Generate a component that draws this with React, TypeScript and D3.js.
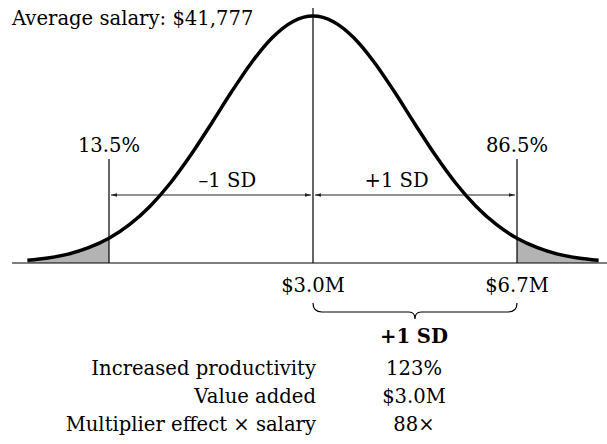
import React from 'react';
import * as d3 from 'd3';

// Bell curve, sampled positions (in "SD" units of the chart) and relative heights
const curveX = [-1.4, -1.3, -1.2, -1.1, -1.0, -0.9, -0.8, -0.7, -0.6, -0.5, -0.4, -0.3, -0.2, -0.1, 0,
  0.1, 0.2, 0.3, 0.4, 0.5, 0.6, 0.7, 0.8, 0.9, 1.0, 1.1, 1.2, 1.3, 1.4];
const curveY = [0.011, 0.020, 0.036, 0.062, 0.100, 0.155, 0.229, 0.323, 0.436, 0.562, 0.692, 0.813, 0.912, 0.977, 1,
  0.977, 0.912, 0.813, 0.692, 0.562, 0.436, 0.323, 0.229, 0.155, 0.100, 0.062, 0.036, 0.020, 0.011];

// markers
const cutoffs = [-1, 1];
const cutoffLabels = ['13.5%', '86.5%'];
const sdLabels = ['\u20131 SD', '+1 SD'];
const sdLabelPos = [-0.42, 0.41];
const valueTicks = [0, 1];
const valueLabels = ['$3.0M', '$6.7M'];

const title = 'Average salary: $41,777';
const tableHeader = '+1 SD';
const rowLabels = ['Increased productivity', 'Value added', 'Multiplier effect \u00d7 salary'];
const rowValues = ['123%', '$3.0M', '88\u00d7'];

const W = 607;
const H = 444;
const FONT = '"DejaVu Serif", "Liberation Serif", serif';
const FS = 19.6;

export default function App() {
  const x = d3.scaleLinear().domain([-1, 1]).range([109, 517]);
  const y = d3.scaleLinear().domain([0, 1]).range([263, 16]);
  const pts = curveX.map((v, i) => ({ x: v, y: curveY[i] }));

  const line = d3.line<{ x: number; y: number }>()
    .x(d => x(d.x))
    .y(d => y(d.y))
    .curve(d3.curveMonotoneX);

  const area = d3.area<{ x: number; y: number }>()
    .x(d => x(d.x))
    .y0(y(0))
    .y1(d => y(d.y))
    .curve(d3.curveMonotoneX);

  const leftTail = pts.filter(d => d.x <= cutoffs[0]);
  const rightTail = pts.filter(d => d.x >= cutoffs[1]);

  const arrowY = 195;
  const base = y(0);
  const bx0 = x(0);
  const bx1 = x(1);
  const bmid = (bx0 + bx1) / 2;
  const bTop = 303;
  const bMid = 312;
  const bTip = 319;
  const brace = `M${bx0},${bTop} Q${bx0},${bMid} ${bx0 + 9},${bMid} L${bmid - 6},${bMid} Q${bmid},${bMid} ${bmid},${bTip} Q${bmid},${bMid} ${bmid + 6},${bMid} L${bx1 - 9},${bMid} Q${bx1},${bMid} ${bx1},${bTop}`;

  return (
    <svg width={W} height={H} style={{ position: 'absolute', left: 0, top: 0, background: '#fff' }}
      fontFamily={FONT}>
      <defs>
        <marker id="ah" viewBox="0 0 10 6" refX="10" refY="3" markerWidth="6" markerHeight="3.6"
          markerUnits="userSpaceOnUse" orient="auto-start-reverse">
          <path d="M0,0 L10,3 L0,6 Z" fill="#222" />
        </marker>
      </defs>

      {/* shaded tails */}
      <path d={area(leftTail) || ''} fill="#b3b3b3" />
      <path d={area(rightTail) || ''} fill="#b3b3b3" />

      {/* baseline */}
      <line x1={12} x2={W} y1={base} y2={base} stroke="#000" strokeWidth={1.2} />

      {/* center line */}
      <line x1={x(0)} x2={x(0)} y1={8} y2={base} stroke="#000" strokeWidth={1.2} />

      {/* cutoff lines + labels */}
      {cutoffs.map((c, i) => (
        <g key={c}>
          <line x1={x(c)} x2={x(c)} y1={159} y2={base} stroke="#000" strokeWidth={1.2} />
          <text x={x(c)} y={152} textAnchor="middle" fontSize={FS}>{cutoffLabels[i]}</text>
        </g>
      ))}

      {/* SD arrows */}
      <line x1={x(-1) + 2} x2={x(0) - 2} y1={arrowY} y2={arrowY} stroke="#222" strokeWidth={1}
        markerStart="url(#ah)" markerEnd="url(#ah)" />
      <line x1={x(0) + 2} x2={x(1) - 2} y1={arrowY} y2={arrowY} stroke="#222" strokeWidth={1}
        markerStart="url(#ah)" markerEnd="url(#ah)" />
      {sdLabels.map((s, i) => (
        <text key={s} x={x(sdLabelPos[i])} y={187} textAnchor="middle" fontSize={FS}>{s}</text>
      ))}

      {/* the curve */}
      <path d={line(pts) || ''} fill="none" stroke="#000" strokeWidth={3.5} />

      {/* title */}
      <text x={12} y={25} fontSize={FS}>{title}</text>

      {/* value labels */}
      {valueTicks.map((v, i) => (
        <text key={v} x={x(v)} y={292} textAnchor="middle" fontSize={FS}>{valueLabels[i]}</text>
      ))}

      {/* brace */}
      <path d={brace} fill="none" stroke="#000" strokeWidth={1.2} />

      {/* table */}
      <text x={414} y={343} textAnchor="middle" fontSize={FS} fontWeight="bold">{tableHeader}</text>
      {rowLabels.map((r, i) => (
        <g key={r}>
          <text x={316} y={375 + i * 28} textAnchor="end" fontSize={FS}>{r}</text>
          <text x={414} y={375 + i * 28} textAnchor="middle" fontSize={FS}>{rowValues[i]}</text>
        </g>
      ))}
    </svg>
  );
}
